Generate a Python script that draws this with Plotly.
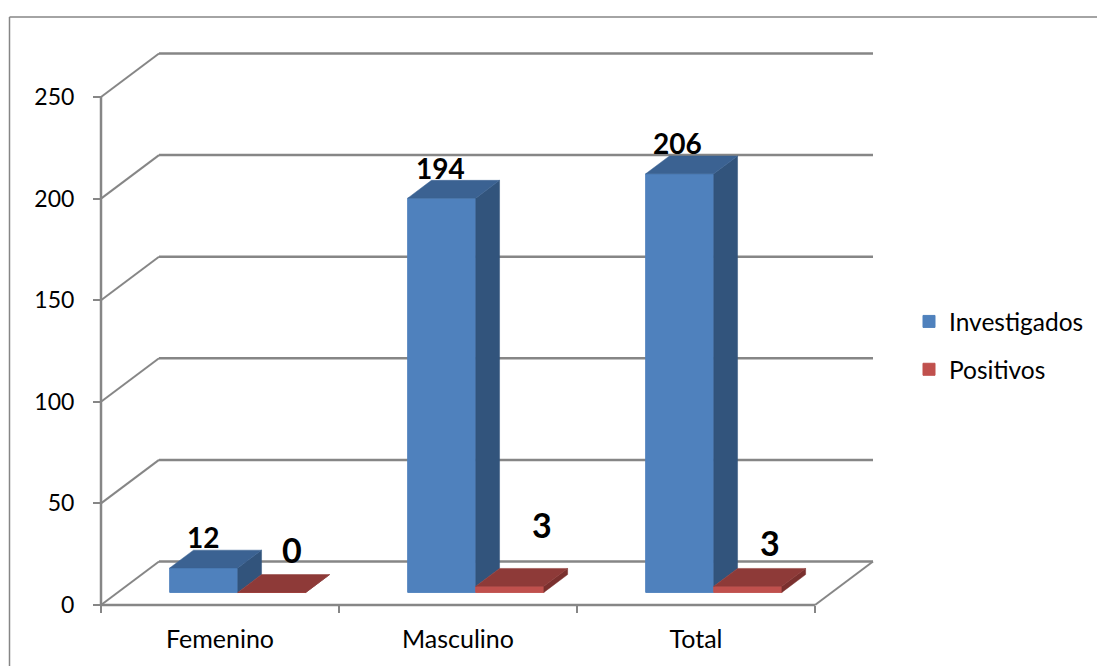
import plotly.graph_objects as go

# Chart data
categories = ["Femenino", "Masculino", "Total"]
investigados = [12, 194, 206]
positivos = [0, 3, 3]
y_ticks = [0, 50, 100, 150, 200, 250]

# Canvas and plot area, in pixels
WIDTH, HEIGHT = 1097, 666
PLOT_L, PLOT_R, PLOT_T, PLOT_B = 95, 880, 46, 612
ORIGIN_X, ORIGIN_Y = 101, 605
PX_PER_CAT = 238
PX_PER_UNIT = 2.032

# Oblique projection: depth z in 0..1 slides a point back and to the right
DX = 58 / PX_PER_CAT
DY = 43.5 / PX_PER_UNIT

# Box layout inside a category
BAR_W = 0.286
BAR_GAP = 0.218
Z_FRONT, Z_BACK = 0.29, 0.70

GRID = "#868686"
BLUE = dict(front="#4F81BD", side="#32547C", top="#3B6292")
RED = dict(front="#C0504D", side="#7A302E", top="#8E3A38")
FONT = "Lato"


def project(x, v, z):
    return x + z * DX, v + z * DY


def polygon(points, color):
    xs = [p[0] for p in points] + [points[0][0]]
    ys = [p[1] for p in points] + [points[0][1]]
    return go.Scatter(
        x=xs, y=ys, mode="lines", fill="toself", fillcolor=color,
        line=dict(color=color, width=0.5), showlegend=False, hoverinfo="skip",
    )


def line(x0, v0, x1, v1, width=2):
    return dict(
        type="line", xref="x", yref="y", x0=x0, y0=v0, x1=x1, y1=v1,
        layer="below", line=dict(color=GRID, width=width),
    )


def paper_x(px):
    return (px - PLOT_L) / (PLOT_R - PLOT_L)


def paper_y(px):
    return (PLOT_B - px) / (PLOT_B - PLOT_T)


fig = go.Figure()

# Front faces are ordinary bars resting on the chart floor
floor_value = project(0, 0, Z_FRONT)[1]
series = [
    ("Investigados", investigados, BLUE, 0),
    ("Positivos", positivos, RED, 1),
]
for name, values, colors, slot in series:
    fig.add_trace(go.Bar(
        name=name,
        legendgroup=name,
        x=[i + BAR_GAP + (slot + 0.5) * BAR_W + Z_FRONT * DX for i in range(len(values))],
        y=values,
        base=[floor_value] * len(values),
        width=BAR_W,
        marker=dict(color=colors["front"], line=dict(color=colors["front"], width=1)),
        hoverinfo="skip",
    ))

# Top and side faces, projected from the same values.
# The blue side only shows above the neighbouring red box.
for name, values, colors, slot in series:
    for i, value in enumerate(values):
        left = i + BAR_GAP + slot * BAR_W
        right = left + BAR_W
        hidden = positivos[i] if slot == 0 else 0
        fig.add_trace(polygon([
            project(right, hidden, Z_FRONT), project(right, hidden, Z_BACK),
            project(right, value, Z_BACK), project(right, value, Z_FRONT),
        ], colors["side"]))
        fig.add_trace(polygon([
            project(left, value, Z_FRONT), project(right, value, Z_FRONT),
            project(right, value, Z_BACK), project(left, value, Z_BACK),
        ], colors["top"]))

# Back wall lines, left wall diagonals, floor edges and the value axis
n_cat = len(categories)
shapes = []
for tick in y_ticks:
    bx0, bv = project(0, tick, 1)
    bx1, _ = project(n_cat, tick, 1)
    shapes.append(line(bx0, bv, bx1, bv, 2.5))
    shapes.append(line(0, tick, bx0, bv, 2))
shapes.append(line(0, 0, n_cat, 0, 2.5))
shapes.append(line(0, 0, 0, y_ticks[-1], 2.5))
end_x, end_v = project(n_cat, 0, 1)
shapes.append(line(n_cat, 0, end_x, end_v, 2))

# Frame around the chart, running off the right and bottom of the page
for x0, y0, x1, y1 in [(9.5, 17, 9.5, 700), (9.5, 17, 1130, 17)]:
    shapes.append(dict(
        type="line", xref="paper", yref="paper",
        x0=paper_x(x0), y0=paper_y(y0), x1=paper_x(x1), y1=paper_y(y1),
        line=dict(color=GRID, width=1.5),
    ))

# Value labels: small bold over the blue boxes, larger over the red ones
blue_shift = [(-1, 31), (-1.5, 30.5), (-2, 30.7)]
red_shift = [(20, 43), (32, 62), (22, 43.7)]
annotations = []
for (name, values, colors, slot), shifts, size in zip(series, (blue_shift, red_shift), (28, 34)):
    for i, value in enumerate(values):
        cx = i + BAR_GAP + (slot + 0.5) * BAR_W
        ax, av = project(cx, value, Z_FRONT)
        annotations.append(dict(
            x=ax, y=av, xref="x", yref="y", text=str(value), showarrow=False,
            xanchor="center", yanchor="middle",
            xshift=shifts[i][0], yshift=shifts[i][1],
            font=dict(family=FONT, size=size, color="black", weight="bold"),
        ))

fig.update_layout(
    width=WIDTH, height=HEIGHT,
    margin=dict(l=PLOT_L, r=WIDTH - PLOT_R, t=PLOT_T, b=HEIGHT - PLOT_B, pad=0, autoexpand=False),
    paper_bgcolor="white", plot_bgcolor="white",
    barmode="overlay",
    shapes=shapes,
    annotations=annotations,
    font=dict(family=FONT, size=23, color="black"),
    legend=dict(
        x=paper_x(909), y=paper_y(299), xanchor="left", yanchor="top",
        font=dict(family=FONT, size=24.5, color="black"),
        bgcolor="rgba(0,0,0,0)", tracegroupgap=13, itemclick=False,
    ),
    xaxis=dict(
        range=[(PLOT_L - ORIGIN_X) / PX_PER_CAT, (PLOT_R - ORIGIN_X) / PX_PER_CAT],
        anchor="free", position=paper_y(ORIGIN_Y),
        tickmode="array", tickvals=[i + 0.5 for i in range(n_cat)], ticktext=categories,
        tickfont=dict(family=FONT, size=25, color="black"),
        ticks="", showgrid=False, zeroline=False, showline=False, ticklabelstandoff=17,
        minor=dict(
            tickmode="array", tickvals=list(range(n_cat + 1)),
            ticks="outside", ticklen=7, tickwidth=2, tickcolor=GRID, showgrid=False,
        ),
    ),
    yaxis=dict(
        range=[(ORIGIN_Y - PLOT_B) / PX_PER_UNIT, (ORIGIN_Y - PLOT_T) / PX_PER_UNIT],
        anchor="free", position=paper_x(ORIGIN_X),
        tickmode="array", tickvals=y_ticks,
        ticks="outside", ticklen=8, tickwidth=2, tickcolor=GRID,
        showgrid=False, zeroline=False, showline=False, ticklabelstandoff=14,
    ),
)

fig.write_html("out.html", config=dict(displayModeBar=False))
